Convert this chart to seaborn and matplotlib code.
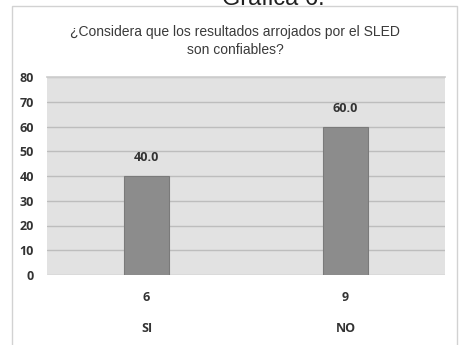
import matplotlib
matplotlib.use("Agg")
import matplotlib.pyplot as plt
import matplotlib.patches as mpatches
import seaborn as sns
import pandas as pd

# Survey answers: share (%) and number of respondents per answer
answers = ["SI", "NO"]
percentages = [40.0, 60.0]
counts = [6, 9]
y_ticks = [0, 10, 20, 30, 40, 50, 60, 70, 80]

title = "¿Considera que los resultados arrojados por el SLED\nson confiables?"
header = "Gráfica 6."

df = pd.DataFrame({"respuesta": answers, "porcentaje": percentages})

sns.set_theme(style="white")
plt.rcParams["font.family"] = ["Liberation Sans", "DejaVu Sans"]

W, H = 459, 345
fig = plt.figure(figsize=(W / 100, H / 100), dpi=100)
fig.patch.set_facecolor("white")

# outer chart frame
frame = mpatches.Rectangle((12 / W, -0.02), (457 - 12) / W, 1 - 6 / H + 0.02,
                           transform=fig.transFigure, fill=False,
                           edgecolor="#d2d2d2", linewidth=1.0)
fig.add_artist(frame)

# page header, partly hidden by the top edge
fig.text(273 / W, 1 - 5 / H, header, ha="center", va="baseline",
         fontsize=17, color="#202020")

ax = fig.add_axes([47 / W, 1 - 275 / H, (445 - 47) / W, (275 - 77) / H])
ax.set_facecolor("#e2e2e2")

sns.barplot(data=df, x="respuesta", y="porcentaje", ax=ax, width=0.23,
            color="#8c8c8c", edgecolor="#7a7a7a", linewidth=0.8, saturation=1)

ax.set_ylim(0, 80)
ax.set_yticks(y_ticks)
ax.set_xlim(-0.5, 1.5)
ax.yaxis.grid(True, color="#bdbdbd", linewidth=1.0)
ax.set_axisbelow(True)
for s in ax.spines.values():
    s.set_visible(False)
ax.spines["top"].set_visible(True)
ax.spines["top"].set_color("#cfcfcf")

lab_font = ["Open Sans", "DejaVu Sans"]
ax.tick_params(axis="y", length=0, pad=9.5, labelsize=9, labelcolor="#333333")
for lab in ax.get_yticklabels():
    lab.set_fontweight("bold")
    lab.set_family(lab_font)

ax.set_xlabel("")
ax.set_ylabel("")
ax.set_xticks(range(len(answers)))
ax.set_xticklabels(answers)
ax.tick_params(axis="x", length=0, pad=34, labelsize=9, labelcolor="#333333")
for lab in ax.get_xticklabels():
    lab.set_fontweight("bold")
    lab.set_family(lab_font)

# respondent counts above the answer labels
for i, c in enumerate(counts):
    ax.annotate(str(c), xy=(i, 0), xycoords="data", xytext=(0, -16),
                textcoords="offset points", ha="center", va="center",
                fontsize=9, fontweight="bold", color="#333333", family=lab_font)

# value labels above bars
for i, v in enumerate(percentages):
    ax.annotate(f"{v:.1f}", xy=(i, v), xytext=(0, 13), textcoords="offset points",
                ha="center", va="center", fontsize=9, fontweight="bold",
                color="#333333", family=lab_font)

fig.text(235 / W, 1 - 41 / H, title, ha="center", va="center",
         fontsize=10, color="#3a3a3a", linespacing=1.35)

fig.savefig("out.png", dpi=100, facecolor="white")
